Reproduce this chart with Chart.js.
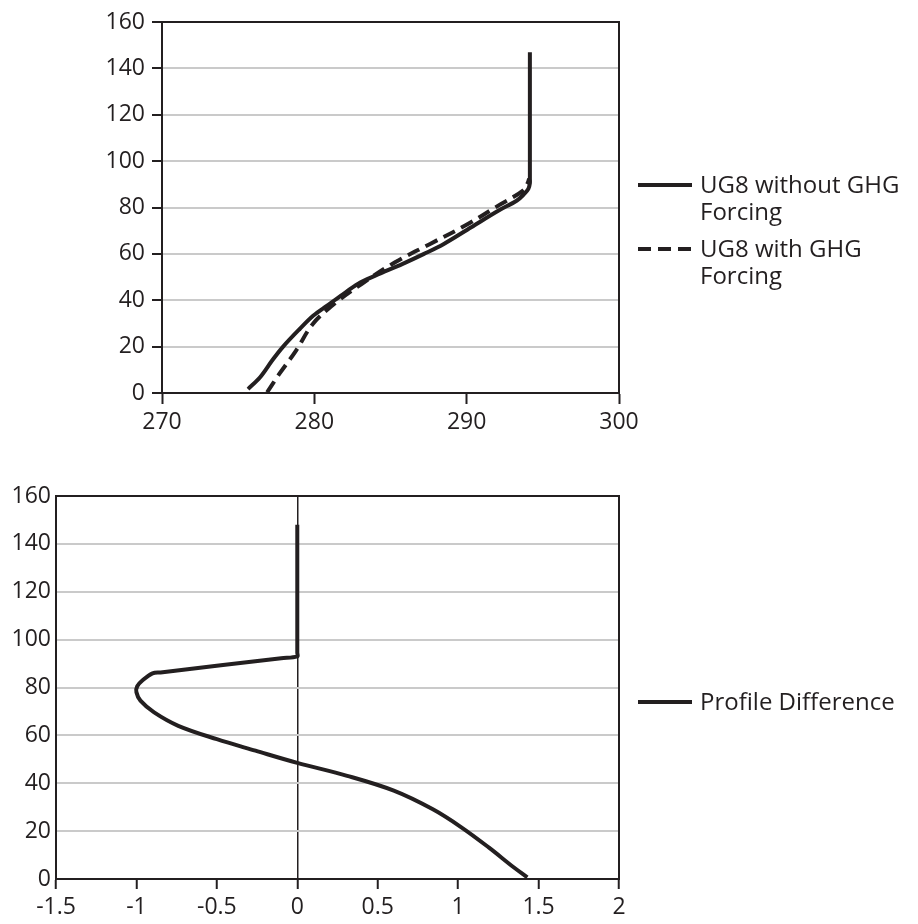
<!DOCTYPE html>
<html>
<head>
<meta charset="utf-8">
<script src="https://cdn.jsdelivr.net/npm/chart.js@4.4.1/dist/chart.umd.min.js"></script>
<style>
  html, body { margin:0; padding:0; background:#fff; }
  body { width:918px; height:924px; position:relative; overflow:hidden; font-family:"Open Sans", sans-serif; color:#231f20; }
  canvas { position:absolute; left:0; }
  #c1 { top:0; }
  #c2 { top:460px; }
  .leg { position:absolute; font-size:24px; line-height:27px; color:#231f20; white-space:nowrap; }
</style>
</head>
<body>
<canvas id="c1" width="918" height="440"></canvas>
<canvas id="c2" width="918" height="464"></canvas>

<svg style="position:absolute;left:0;top:0" width="918" height="924">
  <line x1="638" y1="185" x2="692" y2="185" stroke="#231f20" stroke-width="4"/>
  <line x1="638" y1="249" x2="692" y2="249" stroke="#231f20" stroke-width="4" stroke-dasharray="13 7"/>
  <line x1="638" y1="702" x2="692" y2="702" stroke="#231f20" stroke-width="4"/>
</svg>
<div class="leg" style="left:700px;top:170px;">UG8 without GHG<br>Forcing</div>
<div class="leg" style="left:700px;top:234px;">UG8 with GHG<br>Forcing</div>
<div class="leg" style="left:700px;top:687px;">Profile Difference</div>

<script>
// ---- Data (top chart: temperature vs height) ----
const withoutHeights = [1.7, 6.8, 14, 19.7, 27.6, 33.4, 37.7, 42, 47.1, 50.6, 55.7, 60, 64.3, 71.5, 78.7, 83, 86, 88, 90.5, 92.5, 147];
const withoutTemps   = [275.65, 276.44, 277.23, 277.91, 279.04, 279.94, 280.84, 281.75, 282.88, 284.0, 285.8, 287.2, 288.5, 290.3, 292.1, 293.3, 293.8, 294.05, 294.15, 294.15, 294.15];

const withHeights = [0.3, 8.2, 18.3, 29.8, 38.4, 47, 56.4, 64.3, 72.2, 80.9, 87.3, 90.5, 92.4];
const withTemps   = [276.9, 277.7, 278.8, 279.9, 281.3, 283.1, 285.3, 287.6, 289.9, 292.1, 293.7, 294.0, 294.1];

// ---- Data (bottom chart: profile difference vs height) ----
const diffHeights = [0.7, 4.9, 13.2, 21.6, 29.2, 36.9, 43.1, 48.5, 53.6, 58.4, 64, 69.6, 74.5, 78, 80.5, 83.1, 85.9, 86.3, 92.2, 93, 94.5, 148];
const diffValues  = [1.43, 1.345, 1.19, 1.02, 0.84, 0.6, 0.31, 0.0, -0.26, -0.5, -0.74, -0.89, -0.975, -1.0, -0.995, -0.96, -0.9, -0.85, -0.1, 0, 0, 0];

// ---- Axis ranges / ticks ----
const topXTicks = [270, 280, 290, 300];
const heightTicks = [0, 20, 40, 60, 80, 100, 120, 140, 160];
const diffXTicks = [-1.5, -1, -0.5, 0, 0.5, 1, 1.5, 2];
const diffXLabels = ['-1.5', '-1', '-0.5', '0', '0.5', '1', '1.5', '2'];

const INK = '#231f20';
const GRID = '#cacaca';
const FONT = { family: '"Open Sans", sans-serif', size: 23 };

function pts(xs, ys) { return xs.map((x, i) => ({ x: x, y: ys[i] })); }

const frame = {
  id: 'frame',
  beforeDatasetsDraw(chart, args, opts) {
    if (!opts.full) return;
    const a = chart.chartArea, c = chart.ctx;
    c.save();
    c.strokeStyle = INK; c.lineWidth = 2;
    c.strokeRect(a.left, a.top, a.right - a.left, a.bottom - a.top);
    c.restore();
  }
};

function lineDS(label, data, dash) {
  return {
    label: label, data: data, showLine: true, borderColor: INK, backgroundColor: INK,
    borderWidth: 4, pointRadius: 0, tension: 0.35, fill: false,
    borderDash: dash || [], borderCapStyle: 'butt', borderJoinStyle: 'round'
  };
}

function yScale(width, withTicks) {
  return {
    type: 'linear', min: 0, max: 160,
    afterBuildTicks(s) { s.ticks = heightTicks.map(v => ({ value: v })); },
    ticks: { color: INK, font: FONT, padding: withTicks ? 7 : 5 },
    grid: { color: GRID, lineWidth: 2, drawTicks: withTicks, tickLength: 10, tickColor: INK, tickWidth: 2 },
    border: { color: INK, width: 2 },
    afterFit(s) { s.width = width; }
  };
}

new Chart(document.getElementById('c1'), {
  type: 'scatter',
  data: { datasets: [
    lineDS('UG8 without GHG Forcing', pts(withoutTemps, withoutHeights)),
    lineDS('UG8 with GHG Forcing', pts(withTemps, withHeights), [13, 7])
  ]},
  options: {
    responsive: false, animation: false, devicePixelRatio: 1,
    layout: { padding: { top: 22, right: 299, left: 0, bottom: 0 } },
    plugins: { legend: { display: false }, tooltip: { enabled: false }, frame: { full: true } },
    scales: {
      x: {
        type: 'linear', min: 270, max: 300,
        afterBuildTicks(s) { s.ticks = topXTicks.map(v => ({ value: v })); },
        ticks: { color: INK, font: FONT, padding: 5 },
        grid: { drawOnChartArea: false, tickLength: 11, tickColor: INK, tickWidth: 2, color: INK },
        border: { color: INK, width: 2 },
        afterFit(s) { s.height = 47; }
      },
      y: yScale(162, true)
    }
  },
  plugins: [frame]
});

new Chart(document.getElementById('c2'), {
  type: 'scatter',
  data: { datasets: [
    lineDS('Profile Difference', pts(diffValues, diffHeights))
  ]},
  options: {
    responsive: false, animation: false, devicePixelRatio: 1,
    layout: { padding: { top: 36, right: 299, left: 0, bottom: 0 } },
    plugins: { legend: { display: false }, tooltip: { enabled: false }, frame: { full: true } },
    scales: {
      x: {
        type: 'linear', min: -1.5, max: 2,
        afterBuildTicks(s) { s.ticks = diffXTicks.map(v => ({ value: v })); },
        ticks: {
          color: INK, font: FONT, padding: 5,
          callback: (v) => { const i = diffXTicks.indexOf(v); return i >= 0 ? diffXLabels[i] : ''; }
        },
        grid: {
          drawOnChartArea: true, tickLength: 10, tickColor: INK, tickWidth: 2,
          color: (ctx) => (ctx.tick && ctx.tick.value === 0) ? INK : 'rgba(0,0,0,0)',
          lineWidth: 1.5
        },
        border: { color: INK, width: 2 },
        afterFit(s) { s.height = 45; }
      },
      y: yScale(56, false)
    }
  },
  plugins: [frame]
});
</script>
</body>
</html>
